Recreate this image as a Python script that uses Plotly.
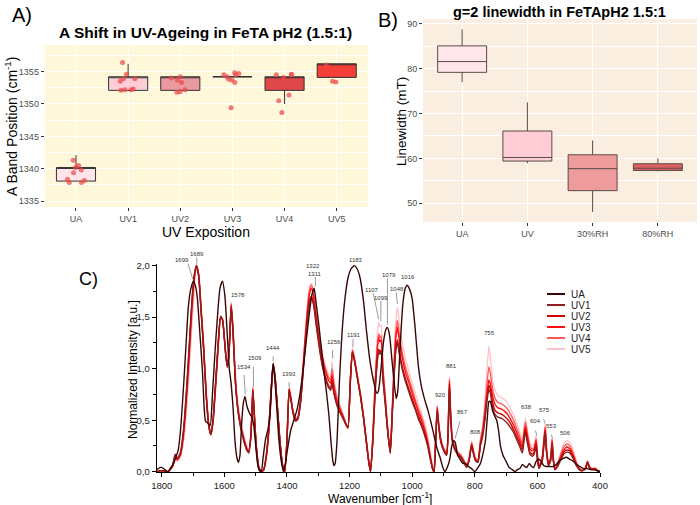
import plotly.graph_objects as go

W, H = 700, 505
FONT = "Liberation Sans, Arial, sans-serif"

# ---------------- Panel A data ----------------
a_categories = ["UA", "UV1", "UV2", "UV3", "UV4", "UV5"]
a_q1 = [1338.1, 1352.1, 1352.1, 1354.2, 1352.1, 1354.1]
a_median = [1340.2, 1354.2, 1354.2, 1354.2, 1354.2, 1356.2]
a_q3 = [1340.2, 1354.2, 1354.2, 1354.2, 1354.2, 1356.2]
a_lower = [1338.1, 1352.1, 1352.1, 1354.2, 1350.0, 1354.1]
a_upper = [1342.1, 1356.2, 1354.2, 1354.2, 1354.2, 1356.2]
a_pts_ua = [1341.3, 1340.5, 1340.2, 1339.8, 1339.4, 1338.4, 1338.2, 1337.9, 1337.9]
a_pts_uv1 = [1356.4, 1354.6, 1353.9, 1353.9, 1353.5, 1352.3, 1352.2, 1352.2, 1352.1]
a_pts_uv2 = [1354.2, 1354.0, 1353.7, 1353.3, 1352.2, 1351.9, 1351.8]
a_pts_uv3 = [1354.8, 1354.7, 1354.5, 1354.5, 1354.2, 1353.8, 1353.7, 1353.3, 1349.4]
a_pts_uv4 = [1354.6, 1354.5, 1354.5, 1354.1, 1351.4, 1350.5, 1348.7]
a_pts_uv5 = [1356.0, 1353.5, 1353.4]
a_yticks = [1335, 1340, 1345, 1350, 1355]
a_fill = ["#FFE4EA", "#FFCDD5", "#EA9A9E", "#E87070", "#E0474B", "#F43E38"]

# ---------------- Panel B data ----------------
b_categories = ["UA", "UV", "30%RH", "80%RH"]
b_q1 = [79.2, 59.4, 52.8, 57.3]
b_median = [81.6, 60.2, 57.7, 57.8]
b_q3 = [85.1, 66.1, 60.8, 58.8]
b_lower = [77.0, 58.9, 48.0, 57.1]
b_upper = [88.8, 72.5, 64.0, 60.0]
b_yticks = [50, 60, 70, 80, 90]
b_fill = ["#FFE6EB", "#FFCDD3", "#EE9B9B", "#DE6262"]

# ---------------- Panel C data ----------------
ua_wn = [1816, 1806, 1798, 1790, 1780, 1770, 1762, 1755, 1748, 1740,
         1731, 1722, 1715, 1708, 1699, 1692, 1686, 1678, 1670, 1664,
         1660, 1652, 1645, 1638, 1630, 1622, 1614, 1606, 1598, 1590,
         1584, 1578, 1572, 1566, 1560, 1555, 1550, 1545, 1540, 1534,
         1528, 1520, 1512, 1506, 1500, 1494, 1488, 1482, 1476, 1468,
         1460, 1454, 1448, 1444, 1440, 1433, 1426, 1418, 1411, 1404,
         1396, 1388, 1378, 1368, 1358, 1348, 1338, 1328, 1320, 1313,
         1306, 1298, 1290, 1282, 1274, 1266, 1260, 1254, 1250, 1246,
         1240, 1232, 1224, 1215, 1205, 1195, 1185, 1176, 1167, 1156,
         1145, 1135, 1124, 1113, 1108, 1100, 1092, 1084, 1079, 1072,
         1065, 1058, 1051, 1046, 1039, 1030, 1022, 1016, 1008, 1000,
         991, 980, 970, 960, 950, 940, 930, 920, 911, 903,
         896, 888, 880, 874, 868, 862, 855, 847, 838, 830,
         820, 810, 800, 790, 782, 772, 766, 760, 755, 750,
         744, 738, 730, 724, 718, 710, 700, 690, 680, 672,
         664, 656, 648, 640, 634, 626, 618, 612, 604, 596,
         588, 580, 570, 560, 550, 540, 528, 517, 507, 496,
         485, 474, 464, 452, 440, 430, 420, 410, 400]
ua = [0.02, 0.04, 0.04, 0.02, 0.00, 0.04, 0.08, 0.14, 0.20, 0.40,
      0.79, 1.25, 1.60, 1.76, 1.85, 1.80, 1.68, 1.34, 0.98, 0.60,
      0.49, 0.47, 0.45, 0.75, 1.15, 1.50, 1.78, 1.85, 1.70, 1.30,
      1.00, 0.85, 0.62, 0.30, 0.14, 0.09, 0.16, 0.45, 0.65, 0.73,
      0.64, 0.57, 0.53, 0.45, 0.26, 0.08, 0.01, 0.00, 0.14, 0.32,
      0.42, 0.55, 0.90, 1.05, 0.95, 0.65, 0.32, 0.10, 0.00, 0.10,
      0.26, 0.40, 0.50, 0.60, 0.76, 1.00, 1.28, 1.55, 1.72, 1.78,
      1.62, 1.42, 1.20, 0.98, 0.78, 0.55, 0.32, 0.12, 0.06, 0.08,
      0.30, 0.90, 1.35, 1.67, 1.88, 1.97, 2.00, 1.97, 1.89, 1.67,
      1.34, 1.08, 0.89, 0.76, 0.78, 0.98, 1.25, 1.38, 1.40, 1.32,
      1.10, 0.88, 0.71, 0.78, 1.18, 1.62, 1.78, 1.81, 1.77, 1.68,
      1.41, 1.02, 0.82, 0.70, 0.60, 0.48, 0.35, 0.22, 0.14, 0.05,
      0.00, 0.04, 0.12, 0.24, 0.30, 0.28, 0.16, 0.12, 0.08, 0.08,
      0.05, 0.03, 0.00, 0.04, 0.08, 0.20, 0.30, 0.52, 0.68, 0.68,
      0.60, 0.55, 0.50, 0.40, 0.25, 0.16, 0.10, 0.04, 0.02, 0.00,
      0.02, 0.03, 0.07, 0.05, 0.04, 0.08, 0.05, 0.04, 0.10, 0.12,
      0.10, 0.06, 0.05, 0.05, 0.05, 0.07, 0.11, 0.13, 0.14, 0.12,
      0.10, 0.07, 0.05, 0.03, 0.03, 0.02, 0.02, 0.01, 0.00]

uv_wn = [1816, 1800, 1780, 1765, 1757, 1750, 1740, 1730, 1720, 1712,
         1704, 1696, 1689, 1682, 1674, 1666, 1658, 1650, 1643, 1636,
         1628, 1620, 1612, 1606, 1600, 1595, 1590, 1585, 1578, 1572,
         1565, 1557, 1548, 1538, 1528, 1522, 1516, 1512, 1509, 1504,
         1498, 1490, 1482, 1474, 1466, 1458, 1450, 1444, 1438, 1430,
         1422, 1414, 1407, 1400, 1393, 1388, 1380, 1372, 1365, 1356,
         1346, 1336, 1328, 1322, 1315, 1306, 1296, 1286, 1276, 1266,
         1260, 1256, 1250, 1240, 1230, 1220, 1212, 1205, 1198, 1191,
         1185, 1175, 1165, 1155, 1145, 1138, 1133, 1126, 1118, 1111,
         1107, 1103, 1099, 1093, 1086, 1078, 1070, 1064, 1057, 1052,
         1047, 1040, 1030, 1020, 1010, 1000, 990, 980, 970, 960,
         950, 942, 934, 930, 925, 920, 915, 908, 900, 890,
         885, 881, 877, 872, 865, 855, 845, 835, 826, 818,
         810, 805, 798, 790, 782, 775, 768, 762, 755, 750,
         744, 736, 726, 716, 706, 696, 686, 676, 666, 656,
         648, 642, 638, 632, 624, 616, 610, 604, 600, 595,
         590, 584, 579, 575, 571, 565, 558, 553, 549, 544,
         536, 526, 516, 506, 496, 486, 476, 466, 456, 446,
         440, 434, 426, 416, 408, 400]
uv1 = [0.00, 0.01, 0.00, 0.07, 0.17, 0.13, 0.19, 0.42, 0.84, 1.24,
       1.64, 1.91, 2.00, 1.90, 1.55, 1.18, 0.74, 0.45, 0.36, 0.50,
       0.86, 1.23, 1.51, 1.48, 1.30, 1.12, 1.01, 1.14, 1.60, 1.34,
       0.88, 0.60, 0.43, 0.30, 0.21, 0.18, 0.31, 0.53, 0.78, 0.53,
       0.24, 0.04, 0.00, 0.02, 0.16, 0.42, 0.82, 1.05, 0.93, 0.61,
       0.28, 0.06, 0.00, 0.29, 0.79, 0.71, 0.56, 0.49, 0.51, 0.68,
       1.05, 1.42, 1.63, 1.68, 1.62, 1.41, 1.19, 1.01, 0.89, 0.81,
       0.79, 0.86, 0.76, 0.64, 0.57, 0.51, 0.46, 0.43, 0.84, 1.16,
       1.09, 0.91, 0.73, 0.51, 0.25, 0.08, 0.00, 0.28, 0.78, 1.08,
       1.17, 1.14, 1.16, 0.88, 0.66, 0.38, 0.18, 0.52, 0.96, 1.18,
       1.25, 1.12, 0.97, 0.86, 0.77, 0.68, 0.60, 0.51, 0.44, 0.35,
       0.24, 0.12, 0.02, 0.00, 0.28, 0.59, 0.43, 0.28, 0.21, 0.16,
       0.38, 0.82, 0.52, 0.30, 0.22, 0.17, 0.14, 0.09, 0.04, 0.11,
       0.25, 0.18, 0.11, 0.09, 0.25, 0.34, 0.49, 0.66, 0.80, 0.76,
       0.64, 0.56, 0.53, 0.52, 0.50, 0.47, 0.43, 0.38, 0.31, 0.24,
       0.18, 0.32, 0.38, 0.28, 0.17, 0.15, 0.17, 0.25, 0.11, 0.03,
       0.06, 0.11, 0.26, 0.38, 0.19, 0.06, 0.10, 0.26, 0.10, 0.02,
       0.05, 0.11, 0.17, 0.19, 0.18, 0.13, 0.06, 0.02, 0.01, 0.03,
       0.09, 0.04, 0.02, 0.02, 0.01, 0.00]
uv2 = [0.00, 0.01, 0.00, 0.06, 0.16, 0.12, 0.18, 0.40, 0.80, 1.20,
       1.62, 1.90, 2.00, 1.90, 1.55, 1.19, 0.75, 0.45, 0.36, 0.50,
       0.85, 1.22, 1.50, 1.48, 1.30, 1.12, 1.02, 1.15, 1.61, 1.35,
       0.89, 0.61, 0.44, 0.31, 0.21, 0.19, 0.31, 0.54, 0.79, 0.54,
       0.24, 0.04, 0.00, 0.02, 0.15, 0.41, 0.81, 1.04, 0.92, 0.60,
       0.28, 0.06, 0.00, 0.30, 0.80, 0.72, 0.57, 0.50, 0.52, 0.69,
       1.07, 1.45, 1.66, 1.70, 1.64, 1.43, 1.21, 1.03, 0.91, 0.83,
       0.81, 0.89, 0.78, 0.65, 0.58, 0.52, 0.46, 0.43, 0.84, 1.16,
       1.09, 0.91, 0.73, 0.51, 0.25, 0.08, 0.00, 0.28, 0.80, 1.10,
       1.19, 1.16, 1.18, 0.89, 0.67, 0.39, 0.18, 0.53, 0.98, 1.21,
       1.28, 1.15, 1.00, 0.89, 0.80, 0.71, 0.62, 0.54, 0.46, 0.37,
       0.26, 0.13, 0.02, 0.00, 0.29, 0.60, 0.44, 0.29, 0.21, 0.16,
       0.39, 0.85, 0.53, 0.31, 0.23, 0.17, 0.14, 0.09, 0.05, 0.11,
       0.26, 0.19, 0.11, 0.09, 0.26, 0.36, 0.52, 0.69, 0.84, 0.80,
       0.69, 0.60, 0.57, 0.56, 0.54, 0.51, 0.47, 0.41, 0.34, 0.27,
       0.21, 0.35, 0.41, 0.31, 0.19, 0.17, 0.19, 0.27, 0.13, 0.04,
       0.07, 0.12, 0.28, 0.40, 0.20, 0.07, 0.11, 0.28, 0.11, 0.02,
       0.05, 0.12, 0.19, 0.21, 0.20, 0.14, 0.07, 0.02, 0.01, 0.03,
       0.09, 0.04, 0.02, 0.03, 0.01, 0.00]
uv3 = [0.00, 0.01, 0.00, 0.06, 0.15, 0.12, 0.17, 0.38, 0.77, 1.16,
       1.58, 1.88, 2.00, 1.91, 1.56, 1.20, 0.76, 0.46, 0.36, 0.49,
       0.84, 1.21, 1.50, 1.48, 1.30, 1.12, 1.02, 1.15, 1.62, 1.35,
       0.90, 0.62, 0.45, 0.32, 0.22, 0.19, 0.32, 0.55, 0.80, 0.55,
       0.25, 0.04, 0.00, 0.02, 0.15, 0.40, 0.80, 1.04, 0.92, 0.60,
       0.28, 0.06, 0.00, 0.30, 0.80, 0.72, 0.57, 0.50, 0.52, 0.70,
       1.10, 1.50, 1.72, 1.78, 1.70, 1.48, 1.26, 1.08, 0.96, 0.88,
       0.86, 0.94, 0.82, 0.68, 0.60, 0.53, 0.47, 0.43, 0.85, 1.17,
       1.10, 0.92, 0.74, 0.52, 0.26, 0.08, 0.00, 0.30, 0.85, 1.20,
       1.30, 1.26, 1.28, 0.95, 0.70, 0.40, 0.19, 0.55, 1.05, 1.30,
       1.40, 1.25, 1.08, 0.95, 0.86, 0.76, 0.67, 0.58, 0.50, 0.40,
       0.28, 0.14, 0.02, 0.00, 0.30, 0.62, 0.45, 0.30, 0.22, 0.17,
       0.40, 0.88, 0.55, 0.32, 0.24, 0.18, 0.15, 0.10, 0.05, 0.12,
       0.27, 0.20, 0.12, 0.10, 0.28, 0.38, 0.55, 0.73, 0.89, 0.85,
       0.75, 0.66, 0.62, 0.61, 0.59, 0.56, 0.51, 0.45, 0.38, 0.30,
       0.24, 0.38, 0.44, 0.34, 0.22, 0.20, 0.22, 0.30, 0.15, 0.05,
       0.08, 0.14, 0.30, 0.42, 0.22, 0.08, 0.12, 0.30, 0.12, 0.03,
       0.06, 0.14, 0.21, 0.24, 0.22, 0.16, 0.08, 0.03, 0.01, 0.04,
       0.10, 0.05, 0.03, 0.03, 0.01, 0.00]
uv4 = [0.00, 0.01, 0.00, 0.05, 0.14, 0.11, 0.16, 0.35, 0.72, 1.10,
       1.52, 1.86, 2.00, 1.92, 1.58, 1.22, 0.78, 0.47, 0.36, 0.48,
       0.82, 1.19, 1.49, 1.48, 1.31, 1.13, 1.03, 1.17, 1.63, 1.37,
       0.93, 0.64, 0.47, 0.33, 0.23, 0.20, 0.33, 0.57, 0.81, 0.56,
       0.26, 0.05, 0.00, 0.02, 0.14, 0.38, 0.78, 1.03, 0.91, 0.60,
       0.29, 0.07, 0.00, 0.31, 0.81, 0.73, 0.58, 0.51, 0.53, 0.72,
       1.13, 1.54, 1.76, 1.81, 1.73, 1.51, 1.29, 1.11, 0.99, 0.91,
       0.89, 1.00, 0.86, 0.71, 0.62, 0.54, 0.47, 0.42, 0.86, 1.18,
       1.11, 0.93, 0.75, 0.53, 0.27, 0.09, 0.00, 0.31, 0.88, 1.23,
       1.34, 1.30, 1.32, 0.98, 0.72, 0.41, 0.19, 0.57, 1.10, 1.36,
       1.47, 1.31, 1.13, 1.00, 0.90, 0.80, 0.70, 0.61, 0.53, 0.43,
       0.30, 0.16, 0.03, 0.00, 0.31, 0.63, 0.46, 0.31, 0.23, 0.18,
       0.41, 0.90, 0.56, 0.33, 0.25, 0.19, 0.16, 0.11, 0.06, 0.13,
       0.28, 0.21, 0.13, 0.11, 0.30, 0.41, 0.60, 0.81, 1.02, 0.95,
       0.82, 0.72, 0.67, 0.66, 0.64, 0.61, 0.56, 0.50, 0.42, 0.34,
       0.27, 0.41, 0.48, 0.37, 0.25, 0.22, 0.24, 0.32, 0.17, 0.06,
       0.09, 0.15, 0.32, 0.44, 0.24, 0.09, 0.13, 0.32, 0.13, 0.03,
       0.07, 0.16, 0.24, 0.27, 0.25, 0.18, 0.09, 0.03, 0.01, 0.04,
       0.10, 0.05, 0.03, 0.03, 0.01, 0.00]
uv5 = [0.00, 0.00, 0.00, 0.04, 0.12, 0.10, 0.14, 0.30, 0.62, 0.98,
       1.40, 1.78, 2.00, 1.93, 1.60, 1.25, 0.80, 0.48, 0.35, 0.46,
       0.78, 1.15, 1.47, 1.47, 1.32, 1.14, 1.04, 1.19, 1.65, 1.40,
       0.97, 0.67, 0.50, 0.36, 0.25, 0.21, 0.35, 0.60, 0.83, 0.58,
       0.28, 0.06, 0.01, 0.01, 0.12, 0.35, 0.74, 1.01, 0.90, 0.60,
       0.30, 0.08, 0.00, 0.33, 0.82, 0.74, 0.59, 0.52, 0.55, 0.74,
       1.16, 1.57, 1.79, 1.83, 1.76, 1.54, 1.32, 1.14, 1.02, 0.94,
       0.93, 1.07, 0.90, 0.74, 0.64, 0.55, 0.47, 0.41, 0.88, 1.20,
       1.13, 0.94, 0.76, 0.54, 0.28, 0.10, 0.00, 0.34, 0.95, 1.34,
       1.45, 1.41, 1.42, 1.05, 0.76, 0.43, 0.20, 0.60, 1.18, 1.47,
       1.60, 1.42, 1.22, 1.08, 0.97, 0.86, 0.76, 0.66, 0.57, 0.47,
       0.34, 0.19, 0.05, 0.01, 0.33, 0.65, 0.48, 0.32, 0.24, 0.19,
       0.43, 0.93, 0.58, 0.35, 0.26, 0.20, 0.17, 0.12, 0.07, 0.14,
       0.30, 0.22, 0.14, 0.12, 0.33, 0.45, 0.68, 0.96, 1.22, 1.10,
       0.92, 0.80, 0.74, 0.72, 0.70, 0.67, 0.61, 0.55, 0.47, 0.38,
       0.31, 0.45, 0.52, 0.40, 0.28, 0.25, 0.27, 0.35, 0.19, 0.07,
       0.10, 0.17, 0.35, 0.47, 0.26, 0.10, 0.14, 0.34, 0.14, 0.04,
       0.08, 0.18, 0.27, 0.30, 0.28, 0.21, 0.11, 0.04, 0.01, 0.05,
       0.11, 0.06, 0.03, 0.04, 0.02, 0.00]

c_names = ["UA", "UV1", "UV2", "UV3", "UV4", "UV5"]
c_colors = ["#3A0505", "#8E2020", "#D00000", "#FF1010", "#FF5A5A", "#FFC4CA"]
c_xticks = [1800, 1600, 1400, 1200, 1000, 800, 600, 400]
c_xminor = [1700, 1500, 1300, 1100, 900, 700, 500]
c_yticks = [0.0, 0.5, 1.0, 1.5, 2.0]
c_yticktext = ["0,0", "0,5", "1,0", "1,5", "2,0"]
c_yminor = [0.25, 0.75, 1.25, 1.75]

peak_labels = ["1699", "1689", "1578", "1534", "1509", "1444", "1393", "1322", "1311",
               "1256", "1191", "1183", "1107", "1099", "1079", "1048", "1016", "920",
               "881", "867", "808", "755", "638", "604", "575", "553", "506"]
peak_text_x = [1736, 1686, 1557, 1536, 1502, 1443, 1392, 1318, 1310,
               1249, 1185, 1180, 1129, 1100, 1073, 1049, 1012, 910,
               874, 840, 799, 754, 634, 605, 578, 554, 509]
peak_text_y = [2.06, 2.11, 1.72, 0.97, 1.06, 1.15, 0.90, 2.00, 1.92,
               1.21, 1.33, 2.06, 1.76, 1.69, 1.91, 1.77, 1.89, 0.70,
               0.98, 0.53, 0.34, 1.30, 0.58, 0.44, 0.55, 0.40, 0.33]
leader_x0 = [1716, 1688, 1537, 1507, 1444, 1393, 1309, 1254, 1189, 1124, 1100, 1079, 1051, 847, 606, 580, 556, 508]
leader_y0 = [2.02, 2.08, 0.94, 1.02, 1.12, 0.87, 1.89, 1.18, 1.29, 1.73, 1.66, 1.88, 1.74, 0.49, 0.40, 0.51, 0.36, 0.26]
leader_x1 = [1701, 1688, 1533, 1507, 1444, 1393, 1309, 1254, 1189, 1107, 1100, 1079, 1047, 863, 602, 576, 552, 506]
leader_y1 = [1.87, 2.01, 0.75, 0.82, 1.07, 0.82, 1.80, 1.10, 1.21, 1.48, 1.46, 1.43, 1.63, 0.32, 0.35, 0.47, 0.33, 0.23]

# pixel geometry of panel C (intensity -> page pixel)
C_Y0_PX = 471.7
C_PX_PER_UNIT = 103.0


def px(x):
    return x / W


def py(y):
    return 1 - y / H


def c_paper_y(v):
    return py(C_Y0_PX - v * C_PX_PER_UNIT)


fig = go.Figure(layout=dict(template="none"))

# ---- Panel A boxes ----
for i, cat in enumerate(a_categories):
    fig.add_trace(go.Box(
        x=[cat], q1=[a_q1[i]], median=[a_median[i]], q3=[a_q3[i]],
        lowerfence=[a_lower[i]], upperfence=[a_upper[i]],
        fillcolor=a_fill[i], line=dict(color="#333333", width=1),
        whiskerwidth=0, width=0.75, boxpoints=False,
        xaxis="x", yaxis="y", showlegend=False, hoverinfo="skip"))

a_points = [a_pts_ua, a_pts_uv1, a_pts_uv2, a_pts_uv3, a_pts_uv4, a_pts_uv5]
pts_x, pts_y = [], []
for cat, pts in zip(a_categories, a_points):
    pts_x += [cat] * len(pts)
    pts_y += pts
fig.add_trace(go.Box(
    x=pts_x, y=pts_y, boxpoints="all", jitter=0.55, pointpos=0, width=0.75,
    fillcolor="rgba(0,0,0,0)", line=dict(color="rgba(0,0,0,0)", width=0),
    marker=dict(color="rgba(236,72,74,0.72)", size=5, line=dict(width=0)),
    whiskerwidth=0, xaxis="x", yaxis="y", showlegend=False))

# ---- Panel B boxes ----
for i, cat in enumerate(b_categories):
    fig.add_trace(go.Box(
        x=[cat], q1=[b_q1[i]], median=[b_median[i]], q3=[b_q3[i]],
        lowerfence=[b_lower[i]], upperfence=[b_upper[i]],
        fillcolor=b_fill[i], line=dict(color="#5A4A4A", width=1),
        whiskerwidth=0, width=0.75, boxpoints=False,
        xaxis="x2", yaxis="y2", showlegend=False, hoverinfo="skip"))

# ---- Panel C spectra ----
series = [(ua_wn, ua), (uv_wn, uv1), (uv_wn, uv2), (uv_wn, uv3), (uv_wn, uv4), (uv_wn, uv5)]
order = [5, 4, 3, 2, 1, 0]
for k in order:
    xs, ys = series[k]
    fig.add_trace(go.Scatter(
        x=xs, y=ys, mode="lines", name=c_names[k],
        line=dict(color=c_colors[k], width=1.4, shape="spline", smoothing=0.5),
        xaxis="x3", yaxis="y3", showlegend=False))

annotations = []
shapes = []

# backgrounds
shapes.append(dict(type="rect", xref="x domain", yref="y domain", x0=0, x1=1, y0=0, y1=1,
                   fillcolor="#FFF7DA", line=dict(width=0), layer="below"))
shapes.append(dict(type="rect", xref="x2 domain", yref="y2 domain", x0=0, x1=1, y0=0, y1=1,
                   fillcolor="#FAEEE1", line=dict(width=0), layer="below"))

# peak labels (x in wavenumber, y placed on the page from the intensity)
for lab, tx, ty in zip(peak_labels, peak_text_x, peak_text_y):
    annotations.append(dict(x=tx, y=c_paper_y(ty), xref="x3", yref="paper", text=lab,
                            showarrow=False, font=dict(size=6, color="#333333")))
for x0, y0, x1, y1 in zip(leader_x0, leader_y0, leader_x1, leader_y1):
    shapes.append(dict(type="line", xref="x3", yref="paper", x0=x0, y0=c_paper_y(y0),
                       x1=x1, y1=c_paper_y(y1), line=dict(color="#555555", width=0.6)))

# custom legend for C
for j, (nm, col) in enumerate(zip(c_names, c_colors)):
    yy = 294 + j * 11
    shapes.append(dict(type="line", xref="paper", yref="paper",
                       x0=px(547), x1=px(565), y0=py(yy), y1=py(yy),
                       line=dict(color=col, width=2)))
    annotations.append(dict(x=px(569), y=py(yy), xref="paper", yref="paper", text=nm,
                            showarrow=False, xanchor="left", yanchor="middle",
                            font=dict(size=10, color="#222222")))

# panel labels and titles
txt = [
    ("A)", 22, 15, 20, 0),
    ("B)", 388, 20, 20, 0),
    ("C)", 88, 279, 18, 0),
    ("<b>A Shift in UV-Ageing in FeTA pH2 (1.5:1)</b>", 206, 32, 15.5, 0),
    ("<b>g=2 linewidth in FeTApH2 1.5:1</b>", 559, 12, 14.5, 0),
    ("A Band Position (cm<sup>-1</sup>)", 11, 127, 14, -90),
    ("UV Exposition", 206, 232, 14, 0),
    ("Linewidth (mT)", 401, 122, 13.5, -90),
    ("Normalized Intensity [a.u.]", 133, 370, 12, -90),
    ("Wavenumber [cm<sup>-1</sup>]", 380, 498, 12, 0),
]
for t, x, y, s, ang in txt:
    annotations.append(dict(x=px(x), y=py(y), xref="paper", yref="paper", text=t,
                            showarrow=False, textangle=ang, xanchor="center", yanchor="middle",
                            font=dict(size=s, color="black", family=FONT)))

tick_gray = dict(size=9, color="#4D4D4D", family=FONT)

fig.update_layout(
    width=W, height=H, autosize=False,
    margin=dict(l=0, r=0, t=0, b=0),
    paper_bgcolor="white", plot_bgcolor="white",
    font=dict(family=FONT),
    showlegend=False, boxmode="overlay",
    xaxis=dict(domain=[px(44.7), px(368)], anchor="y", type="category",
               categoryorder="array", categoryarray=a_categories, range=[-0.6, 5.6],
               showgrid=True, gridcolor="white", gridwidth=1.2, zeroline=False, showline=False,
               ticks="outside", ticklen=3, tickcolor="#333333", tickfont=tick_gray, automargin=False),
    yaxis=dict(domain=[py(207), py(45)], anchor="x", range=[1334.1, 1359.1],
               tickvals=a_yticks, showgrid=True, gridcolor="white", gridwidth=1.2,
               zeroline=False, showline=False, ticks="outside", ticklen=3, tickcolor="#333333",
               tickfont=tick_gray, automargin=False,
               minor=dict(tickvals=[1337.5, 1342.5, 1347.5, 1352.5, 1357.5], showgrid=True,
                          gridcolor="white", gridwidth=0.6, ticks="")),
    xaxis2=dict(domain=[px(423), px(697)], anchor="y2", type="category",
                categoryorder="array", categoryarray=b_categories, range=[-0.6, 3.6],
                showgrid=True, gridcolor="white", gridwidth=1.2, zeroline=False, showline=False,
                ticks="outside", ticklen=3, tickcolor="#333333", tickfont=tick_gray, automargin=False),
    yaxis2=dict(domain=[py(222), py(19)], anchor="x2", range=[45.8, 91.1],
                tickvals=b_yticks, showgrid=True, gridcolor="white", gridwidth=1.2,
                zeroline=False, showline=False, ticks="outside", ticklen=3, tickcolor="#333333",
                tickfont=tick_gray, automargin=False,
                minor=dict(tickvals=[55, 65, 75, 85], showgrid=True, gridcolor="white",
                           gridwidth=0.6, ticks="")),
    xaxis3=dict(domain=[px(156.7), px(600)], anchor="y3", range=[1816, 400],
                tickvals=c_xticks, showgrid=False, zeroline=False, showline=True,
                linecolor="black", linewidth=1, ticks="outside", ticklen=4, tickcolor="black",
                tickfont=dict(size=9.5, color="#222222", family=FONT), automargin=False,
                minor=dict(tickvals=c_xminor, ticks="outside", ticklen=2.5, tickcolor="black")),
    yaxis3=dict(domain=[py(472.2), py(263.6)], anchor="x3", range=[-0.005, 2.02],
                tickvals=c_yticks, ticktext=c_yticktext, showgrid=False, zeroline=False,
                showline=True, linecolor="black", linewidth=1, ticks="outside", ticklen=4,
                tickcolor="black", tickfont=dict(size=9.5, color="#222222", family=FONT),
                automargin=False,
                minor=dict(tickvals=c_yminor, ticks="outside", ticklen=2.5, tickcolor="black")),
    annotations=annotations,
    shapes=shapes,
)

fig.write_html("out.html")
